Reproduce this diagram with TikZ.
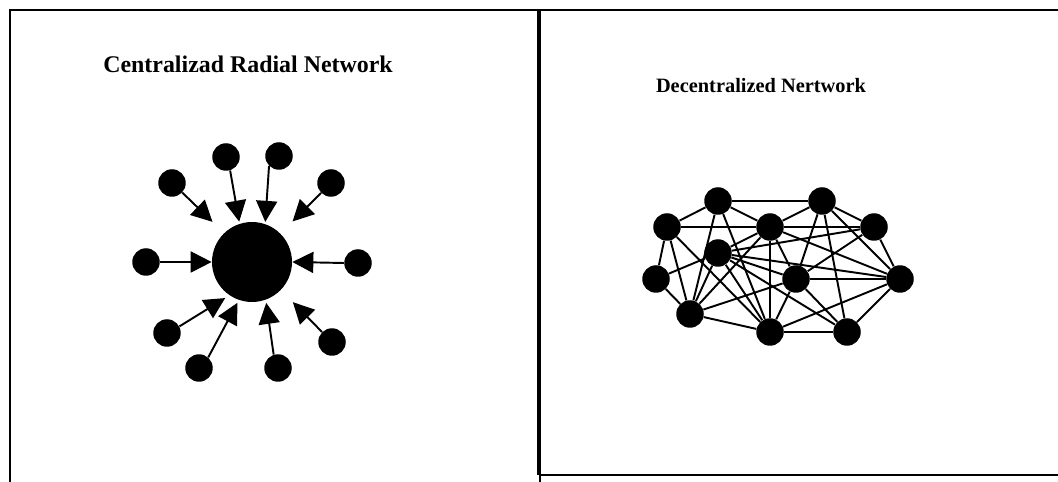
\documentclass[tikz,border=0pt]{standalone}
\usepackage{fontspec}
\setmainfont{Liberation Serif}
\usetikzlibrary{arrows.meta}

\begin{document}
\begin{tikzpicture}[x=0.02cm, y=-0.02cm,
    dot/.style={circle, fill=black, minimum size=0.55cm, inner sep=0pt},
    hub/.style={circle, fill=black, minimum size=1.6cm, inner sep=0pt},
    feed/.style={-{Triangle[length=0.42cm, width=0.42cm]}, line width=1.1pt},
    link/.style={line width=1.1pt},
    title/.style={font=\bfseries\fontsize{13.6}{16}\selectfont, anchor=base}]
  \useasboundingbox (0,0) rectangle (1058,482);

  % CELLS
  \draw[line width=1.2pt] (10,482) -- (10,10) -- (1058,10);
  \draw[line width=2pt] (539,10) -- (539,475);
  \draw[line width=1.3pt] (539,475) -- (1058,475);
  \draw[line width=0.6pt] (540,475) -- (540,482);

  % RADIAL
  \node[title] (radialtitle) at (248,73) {Centralizad Radial Network};
  \node[hub] (hub) at (252,262) {};
  \foreach \name/\x/\y in {s1/172/183, s2/226/157, s3/279/156, s4/331/183, s5/146/262,
      s6/358/263, s7/167/333, s8/199/368, s9/278/368, s10/332/342}
    \node[dot] (\name) at (\x,\y) {};
  \foreach \src/\from/\to/\gap in {s1/317/134/0.32cm, s2/287/108/0.04cm, s3/225/71/0.04cm,
      s4/225/45/0.34cm, s5/0/180/0cm, s6/180/0/0cm, s7/28/236/0.1cm, s8/49/251/0.06cm,
      s9/108/290/0.06cm, s10/135/316/0.34cm}
    \draw[feed, shorten >=\gap] (\src.\from) -- (hub.\to);

  % MESH
  \node[title, font=\bfseries\fontsize{11.6}{14}\selectfont] (meshtitle) at (761,93) {Decentralized Nertwork};
  \foreach \name/\x/\y in {p1/718/201, p2/822/201, p3/667/227, p4/770/227, p5/874/227,
      p6/718/253, p7/656/279, p8/796/279, p9/900/279, p10/690/314, p11/770/332, p12/847/332}
    \node[dot] (\name) at (\x,\y) {};
  \foreach \a/\b in {p3/p1, p3/p4, p3/p7, p3/p10, p3/p11,
      p1/p2, p1/p4, p1/p10, p1/p11,
      p2/p4, p2/p5, p2/p8, p2/p9, p2/p12,
      p4/p5, p4/p6, p4/p8, p4/p9, p4/p10, p4/p11,
      p5/p6, p5/p8, p5/p9,
      p6/p7, p6/p8, p6/p9, p6/p10, p6/p11, p6/p12,
      p7/p10, p8/p9, p8/p10, p8/p11, p8/p12,
      p9/p11, p9/p12, p10/p11, p11/p12}
    \draw[link] (\a) -- (\b);
\end{tikzpicture}
\end{document}
